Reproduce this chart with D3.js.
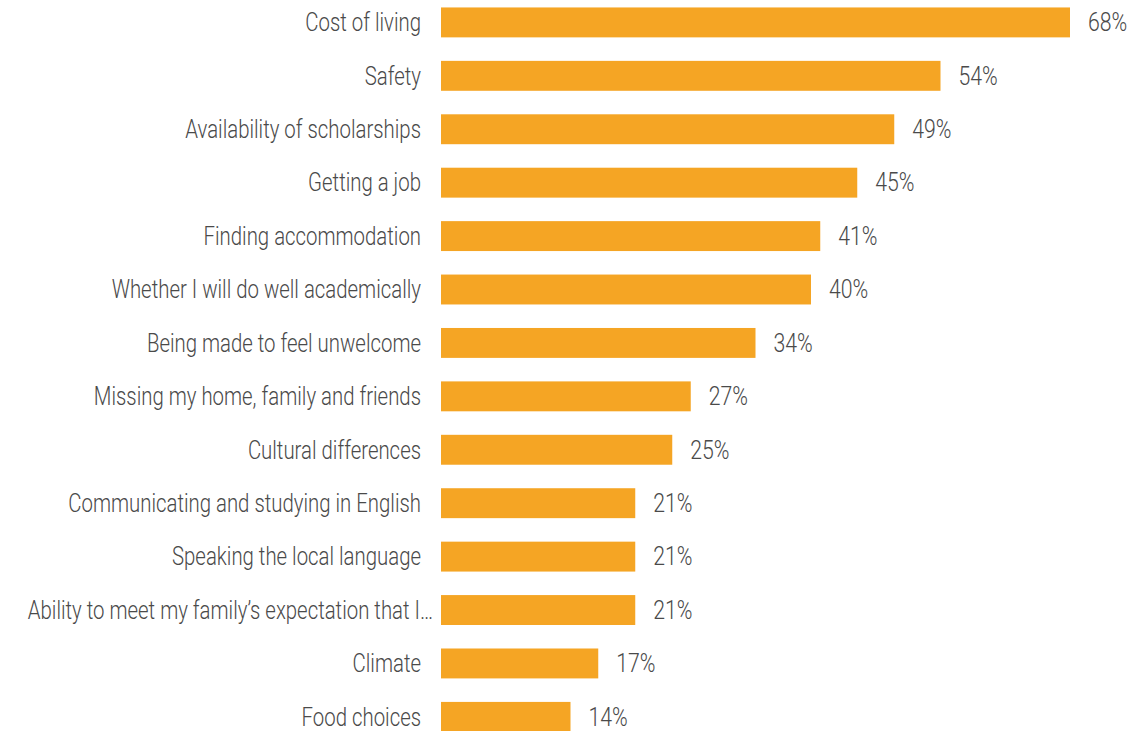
<!DOCTYPE html>
<html>
<head>
<meta charset="utf-8">
<script src="https://cdn.jsdelivr.net/npm/d3@7"></script>
<style>
  html, body { margin: 0; padding: 0; background: #fff; }
  svg { display: block; }
  text { font-family: Roboto, "DejaVu Sans Condensed", sans-serif; font-weight: 300; fill: #4a4a4a; }
</style>
</head>
<body>
<svg id="chart" width="1148" height="731"></svg>
<script>
// Concerns about studying abroad, share of respondents (%)
const categories = [
  "Cost of living",
  "Safety",
  "Availability of scholarships",
  "Getting a job",
  "Finding accommodation",
  "Whether I will do well academically",
  "Being made to feel unwelcome",
  "Missing my home, family and friends",
  "Cultural differences",
  "Communicating and studying in English",
  "Speaking the local language",
  "Ability to meet my family\u2019s expectation that I\u2026",
  "Climate",
  "Food choices"
];
const values = [68, 54, 49, 45, 41, 40, 34, 27, 25, 21, 21, 21, 17, 14];
const valueLabels = values.map(v => v + "%");

const svg = d3.select("#chart");
const barLeft = 441;
const step = 53.42;
const labelSqueeze = 0.815; // narrow the glyphs horizontally
const valueSqueeze = 0.85;

const x = d3.scaleLinear().domain([0, 68]).range([barLeft, 1070]);
const y = d3.scaleBand()
  .domain(categories)
  .range([-4.3, -4.3 + step * categories.length])
  .paddingInner(0.44)
  .paddingOuter(0.22);

const rows = svg.selectAll("g.row")
  .data(categories.map((c, i) => ({ c, v: values[i], label: valueLabels[i] })))
  .join("g")
  .attr("class", "row");

rows.append("rect")
  .attr("x", x(0))
  .attr("y", d => y(d.c))
  .attr("width", d => x(d.v) - x(0))
  .attr("height", y.bandwidth())
  .attr("fill", "#F5A524");

// category labels, right-aligned against the bars; truncated labels run closer
const labelX = d => d.c.endsWith("\u2026") ? barLeft - 8 : barLeft - 20;
rows.append("text")
  .attr("x", labelX)
  .attr("y", d => y(d.c) + y.bandwidth() / 2)
  .attr("dy", "0.35em")
  .attr("text-anchor", "end")
  .attr("font-size", 25)
  .attr("transform-origin", d => `${labelX(d)}px 0px`)
  .attr("transform", `scale(${labelSqueeze},1)`)
  .text(d => d.c);

rows.append("text")
  .attr("x", d => x(d.v) + 18)
  .attr("y", d => y(d.c) + y.bandwidth() / 2)
  .attr("dy", "0.35em")
  .attr("font-size", 25)
  .attr("transform-origin", d => `${x(d.v) + 18}px 0px`)
  .attr("transform", `scale(${valueSqueeze},1)`)
  .text(d => d.label);
</script>
</body>
</html>
